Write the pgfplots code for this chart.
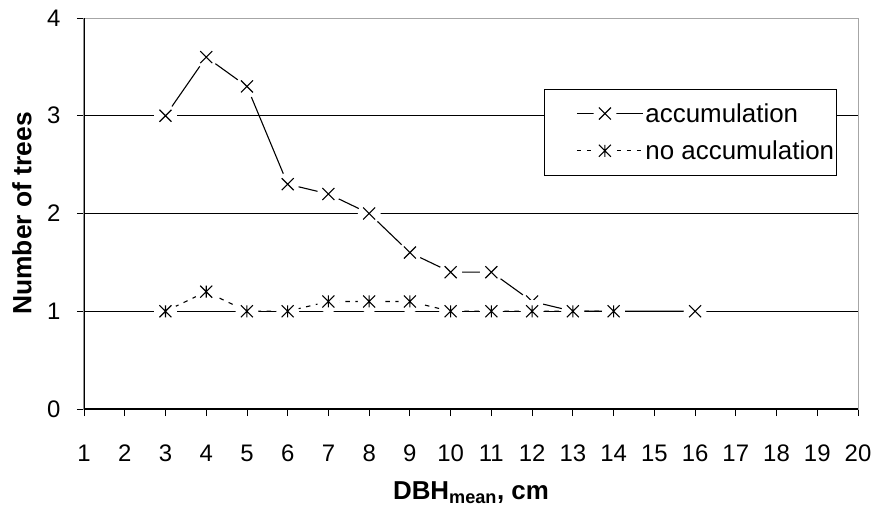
\documentclass[border=0pt]{standalone}
\usepackage{pgfplots}
\pgfplotsset{compat=1.18}
\usepackage{fontspec}
\setmainfont{Liberation Sans}
\pgfdeclareplotmark{hx}{%
  \pgfsetfillcolor{white}%
  \pgfpathcircle{\pgfpointorigin}{1.9\pgfplotmarksize}\pgfusepath{fill}%
  \pgfpathmoveto{\pgfqpoint{-\pgfplotmarksize}{-\pgfplotmarksize}}%
  \pgfpathlineto{\pgfqpoint{\pgfplotmarksize}{\pgfplotmarksize}}%
  \pgfpathmoveto{\pgfqpoint{-\pgfplotmarksize}{\pgfplotmarksize}}%
  \pgfpathlineto{\pgfqpoint{\pgfplotmarksize}{-\pgfplotmarksize}}%
  \pgfusepathqstroke}
\pgfdeclareplotmark{hstar}{%
  \pgfsetfillcolor{white}%
  \pgfpathcircle{\pgfpointorigin}{1.9\pgfplotmarksize}\pgfusepath{fill}%
  \pgfpathmoveto{\pgfqpoint{-\pgfplotmarksize}{-\pgfplotmarksize}}%
  \pgfpathlineto{\pgfqpoint{\pgfplotmarksize}{\pgfplotmarksize}}%
  \pgfpathmoveto{\pgfqpoint{-\pgfplotmarksize}{\pgfplotmarksize}}%
  \pgfpathlineto{\pgfqpoint{\pgfplotmarksize}{-\pgfplotmarksize}}%
  \pgfpathmoveto{\pgfqpoint{0pt}{-\pgfplotmarksize}}%
  \pgfpathlineto{\pgfqpoint{0pt}{\pgfplotmarksize}}%
  \pgfusepathqstroke}
\begin{document}
\begin{tikzpicture}
\begin{axis}[
  at={(0,0)}, anchor=south west,
  scale only axis, width=774bp, height=391bp,
  xmin=1, xmax=20, ymin=0, ymax=4,
  xtick={1,...,20}, ytick={0,1,2,3,4},
  tick align=outside, major tick length=7bp,
  tick style={black, line width=0.8bp},
  xtick pos=bottom, ytick pos=left,
  ymajorgrids, grid style={black, line width=0.9bp},
  axis line style={gray!70, line width=1bp},
  /pgf/number format/assume math mode=true,
  tick label style={font=\fontsize{24}{28}\selectfont},
  xticklabel style={anchor=base, yshift=-45bp},
  yticklabel shift=13bp,
  ylabel={\bfseries Number of trees},
  ylabel style={font=\fontsize{26.5}{31}\selectfont, at={(rel axis cs:-0.0801,0.5)}, anchor=center},
  xlabel={\bfseries DBH\textsubscript{mean}, cm},
  xlabel style={font=\fontsize{26}{31}\selectfont, at={(rel axis cs:0.5,-0.215)}, anchor=center},
  legend style={at={(rel axis cs:0.5943,0.8184)}, anchor=north west, draw=black, line width=0.8bp,
    font=\fontsize{26}{31}\selectfont, inner xsep=0bp, inner ysep=12bp, row sep=13bp},
  legend cell align=left,
  legend image code/.code={
    \path (-32bp,0bp);
    \draw[#1] (0bp,0bp) -- (66bp,0bp);
    \draw[#1,solid] plot coordinates {(28bp,0bp)};
  },
]
\addlegendimage{black, line width=1.1bp, mark=hx, mark size=6bp, mark options={solid}}
\addlegendentry{accumulation}
\addlegendimage{black, line width=1.1bp, dash pattern=on 4.5bp off 5.5bp, mark=hstar, mark size=6bp, mark options={solid}}
\addlegendentry{no accumulation}
% lines
\addplot[black, line width=1.1bp, no marks, forget plot] coordinates {
(3,3) (4,3.6) (5,3.3) (6,2.3) (7,2.2) (8,2.0) (9,1.6) (10,1.4) (11,1.4) (12,1.1) (13,1.0) (14,1.0) (16,1.0)};
\addplot[black, line width=1.1bp, dash pattern=on 4.5bp off 5.5bp, no marks, forget plot] coordinates {
(3,1) (4,1.2) (5,1) (6,1) (7,1.1) (8,1.1) (9,1.1) (10,1) (11,1) (12,1) (13,1) (14,1)};
% marks with white halos
\addplot[only marks, mark=hx, mark size=6bp, black, line width=1.1bp, forget plot] coordinates {
(3,3) (4,3.6) (5,3.3) (6,2.3) (7,2.2) (8,2.0) (9,1.6) (10,1.4) (11,1.4) (12,1.1) (13,1.0) (14,1.0) (16,1.0)};
\addplot[only marks, mark=hstar, mark size=6bp, black, line width=1.1bp, forget plot] coordinates {
(3,1) (4,1.2) (5,1) (6,1) (7,1.1) (8,1.1) (9,1.1) (10,1) (11,1) (12,1) (13,1) (14,1)};
\draw[black, line width=1.1bp] (rel axis cs:0,0) -- (rel axis cs:0,1);
\draw[black, line width=1.1bp] (rel axis cs:0,0) -- (rel axis cs:1,0);
\end{axis}
\pgfresetboundingbox
\path (-84bp,-103bp) rectangle (792bp,409bp);
\end{tikzpicture}
\end{document}
